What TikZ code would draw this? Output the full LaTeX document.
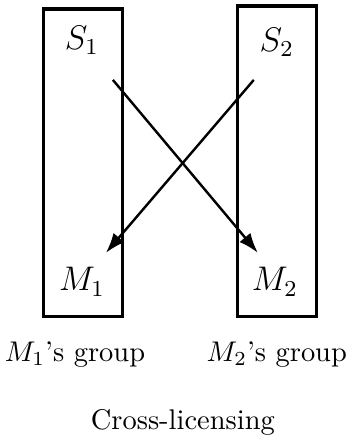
\documentclass[tikz,border=0pt]{standalone}
\usepackage{tikz}
\usetikzlibrary{positioning,arrows.meta}

\begin{document}
\begin{tikzpicture}[
  group/.style={draw=black, line width=1.1pt, minimum width=0.975cm, minimum height=3.8cm, inner sep=0pt},
  member/.style={inner sep=1pt, font=\large},
  caption/.style={inner sep=1pt},
  license/.style={-{Latex[length=7pt,width=5pt]}, line width=0.85pt}
]
  \useasboundingbox (0,0) rectangle (4.36,-5.52);

  \node[group] (g1) at (1.030,-2.011) {};
  \node[group, minimum height=3.838cm] (g2) at (3.424,-1.993) {};

  \node[member] (s1) at (1.012,-0.494) {$S_1$};
  \node[member] (s2) at (3.418,-0.518) {$S_2$};
  \node[member] (m1) at (1.012,-3.480) {$M_1$};
  \node[member] (m2) at (3.394,-3.480) {$M_2$};

  \coordinate (s1out) at (1.394,-0.987);
  \coordinate (m2in)  at (3.184,-3.122);
  \coordinate (s2out) at (3.134,-0.987);
  \coordinate (m1in)  at (1.308,-3.122);

  \draw[license] (s1out) -- (m2in);
  \draw[license] (s2out) -- (m1in);

  \node[caption] (c1) at (0.926,-4.380) {$M_1$'s group};
  \node[caption] (c2) at (3.418,-4.380) {$M_2$'s group};
  \node[caption] (title) at (2.258,-5.220) {Cross-licensing};
\end{tikzpicture}
\end{document}
